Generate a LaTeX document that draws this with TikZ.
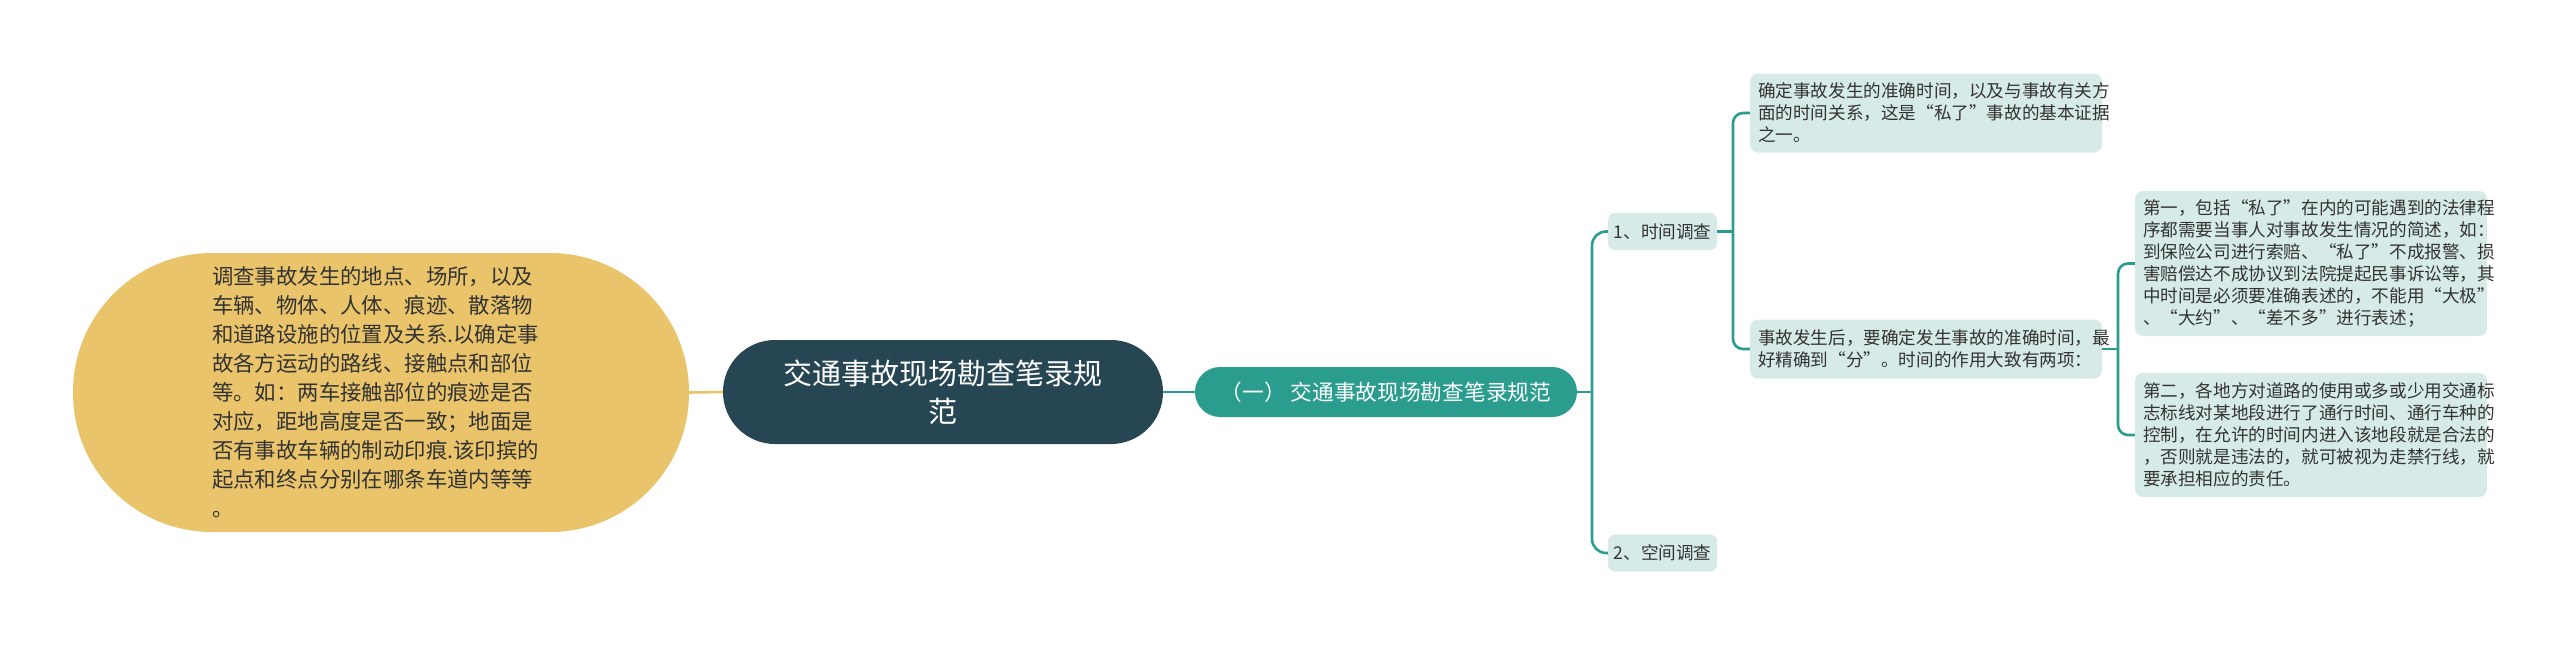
\documentclass[tikz,border=0pt]{standalone}
\usepackage{fontspec}
\setmainfont{Noto Sans CJK SC}
\definecolor{darkc}{HTML}{264653}
\definecolor{tealc}{HTML}{2A9D8F}
\definecolor{yelc}{HTML}{E9C46A}
\definecolor{leaffill}{HTML}{D6EBE8}
\definecolor{textc}{HTML}{333333}
\begin{document}
\begin{tikzpicture}[x=1pt,y=-1pt,
  conn/.style={draw=tealc, line width=2.6pt},
  yline/.style={draw=yelc, line width=2.6pt},
  leaf/.style={fill=leaffill, rounded corners=8pt, inner xsep=8pt, inner ysep=0pt,
    text width=336pt, align=left, minimum width=352pt,
    font=\fontsize{17.6}{22}\selectfont, text=textc},
  small/.style={fill=leaffill, rounded corners=7pt, inner sep=0pt,
    minimum width=109pt, minimum height=37pt,
    font=\fontsize{17.6}{22}\selectfont, text=textc},
  topicnode/.style={fill=yelc, rounded corners=139pt, inner sep=0pt,
    minimum width=616pt, minimum height=279pt, text width=338pt, align=left,
    font=\fontsize{21.4}{29}\selectfont, text=textc},
  rootnode/.style={fill=darkc, rounded corners=52pt, inner sep=0pt,
    minimum width=440pt, minimum height=104pt, text width=340pt, align=center,
    font=\fontsize{29}{38}\selectfont, text=white},
  subnode/.style={fill=tealc, rounded corners=25pt, inner sep=0pt,
    minimum width=382pt, minimum height=50pt,
    font=\fontsize{21.7}{26}\selectfont, text=white},
]
\useasboundingbox (0,0) rectangle (2560,645);
\node[topicnode] (topic) at (381,392.5) {调查事故发生的地点、场所，以及\\车辆、物体、人体、痕迹、散落物\\和道路设施的位置及关系.以确定事\\故各方运动的路线、接触点和部位\\等。如：两车接触部位的痕迹是否\\对应，距地高度是否一致；地面是\\否有事故车辆的制动印痕.该印摈的\\起点和终点分别在哪条车道内等等\\。};
\node[rootnode] (root) at (943,392) {交通事故现场勘查笔录规\\范};
\node[subnode] (sub) at (1386,392) {（一） 交通事故现场勘查笔录规范};
\node[small] (t1) at (1662.5,231.5) {1、时间调查};
\node[small] (t2) at (1662.5,553) {2、空间调查};
\node[leaf, minimum height=79pt] (a) at (1926,113) {确定事故发生的准确时间，以及与事故有关方\\面的时间关系，这是“私了”事故的基本证据\\之一。};
\node[leaf, minimum height=59pt] (b) at (1926,349) {事故发生后，要确定发生事故的准确时间，最\\好精确到“分”。时间的作用大致有两项：};
\node[leaf, minimum height=145pt] (c) at (2311,263.5) {第一，包括“私了”在内的可能遇到的法律程\\序都需要当事人对事故发生情况的简述，如：\\到保险公司进行索赔、“私了”不成报警、损\\害赔偿达不成协议到法院提起民事诉讼等，其\\中时间是必须要准确表述的，不能用“大极”\\、“大约”、“差不多”进行表述；};
\node[leaf, minimum height=124pt] (d) at (2311,435) {第二，各地方对道路的使用或多或少用交通标\\志标线对某地段进行了通行时间、通行车种的\\控制，在允许的时间内进入该地段就是合法的\\，否则就是违法的，就可被视为走禁行线，就\\要承担相应的责任。};
\coordinate (j0) at (1592,392);
\coordinate (j1) at (1733,231.5);
\coordinate (j2) at (2118,349);
\draw[yline] (topic.east) -- (root.west);
\draw[conn] (root.east) -- (sub.west);
\draw[conn] (sub.east) -- (j0);
\draw[conn, rounded corners=14pt] (t1.west) -| (j0) |- (t2.west);
\draw[conn] (t1.east) -- (j1);
\draw[conn, rounded corners=10pt] (a.west) -| (j1) |- (b.west);
\draw[conn] (b.east) -- (j2);
\draw[conn, rounded corners=10pt] (c.west) -| (j2) |- (d.west);
\end{tikzpicture}
\end{document}
